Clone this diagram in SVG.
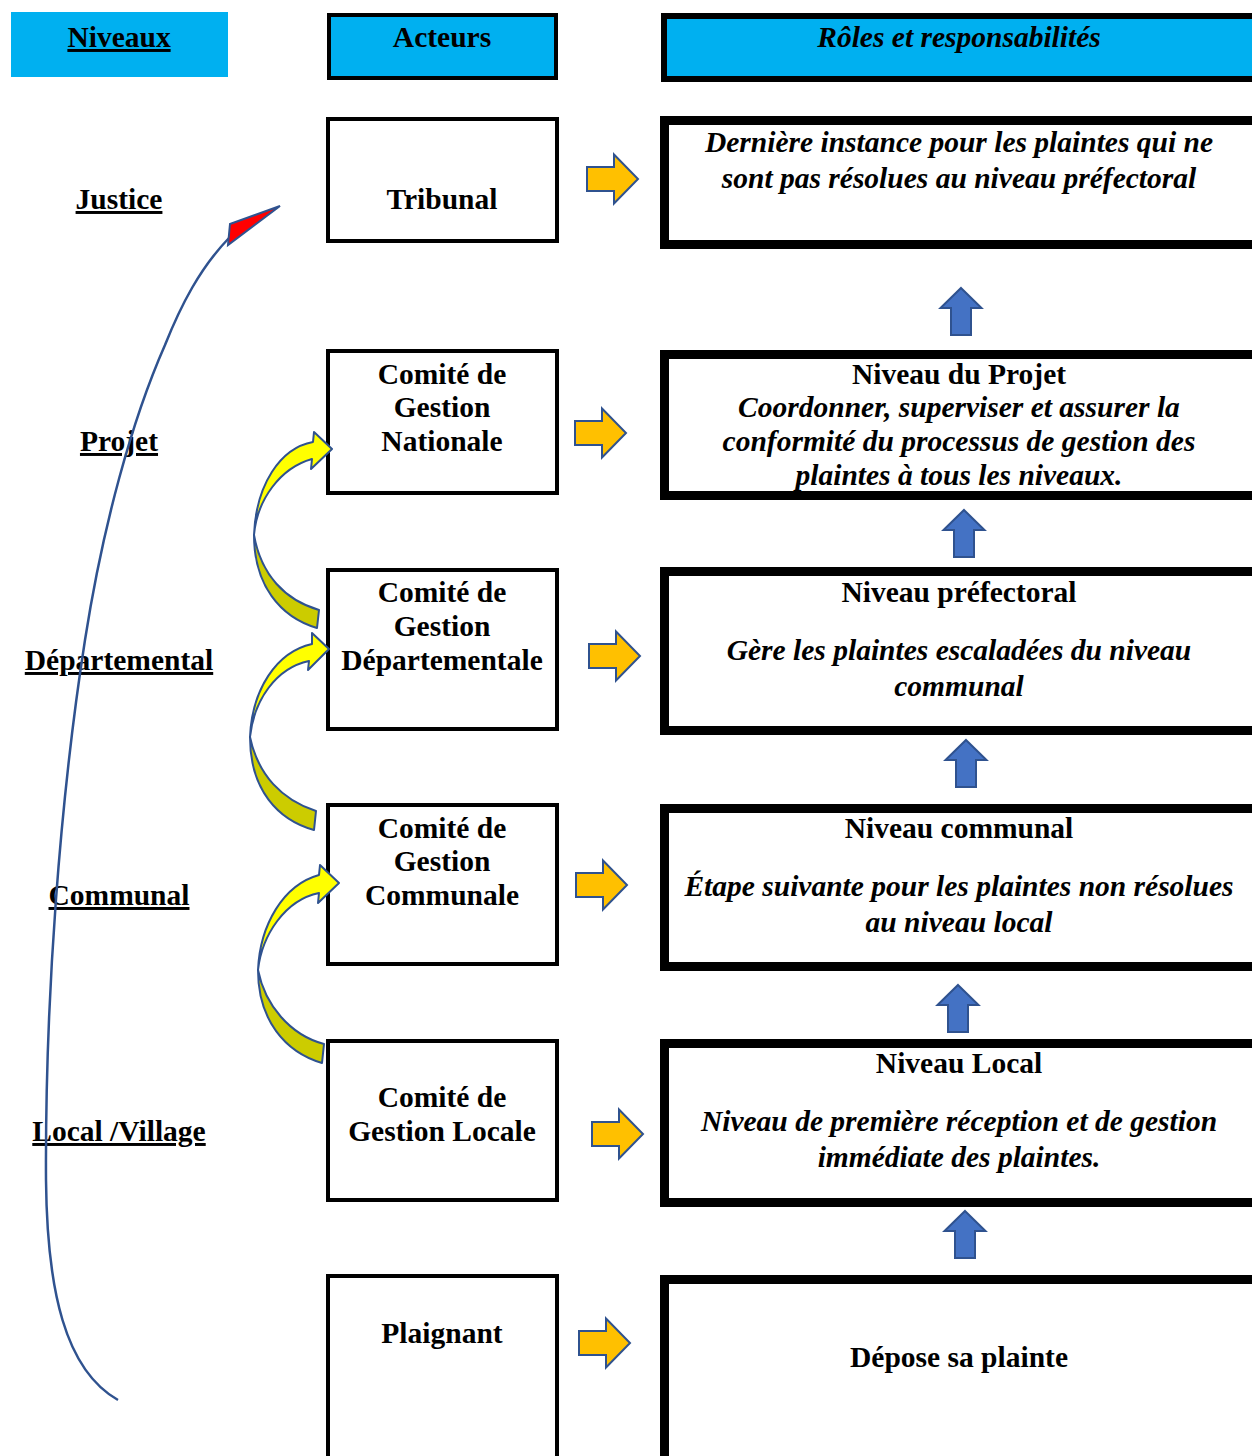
<svg xmlns="http://www.w3.org/2000/svg" xmlns:xlink="http://www.w3.org/1999/xlink" width="1252" height="1456" viewBox="0 0 1252 1456">
<style>
text{font-family:"Liberation Serif","Times New Roman",serif;font-size:29.5px;font-weight:bold;fill:#000;text-anchor:middle}
.it{font-style:italic}
.ul{text-decoration:underline}
.actor{fill:#fff;stroke:#000;stroke-width:4}
.role{fill:#fff;stroke:#000;stroke-width:9}
.hdr{fill:#00B0F0}
.orange{fill:#FFC000;stroke:#2F528F;stroke-width:2;stroke-linejoin:miter}
.blue{fill:#4472C4;stroke:#2F528F;stroke-width:2}
.yl{fill:#FFFF00;stroke:#2F528F;stroke-width:2;stroke-linejoin:round}
.yd{fill:#CCCC00;stroke:#2F528F;stroke-width:2;stroke-linejoin:round}
</style>
<defs>
<path id="oarr" d="M0,-12 H27 V-24.5 L51,0 L27,24.5 V12 H0 Z"/>
<path id="barr" d="M0,0 L20.5,20 H10 V47 H-10 V20 H-20.5 Z"/>
</defs>
<rect width="1252" height="1456" fill="#fff"/>

<g id="headers">
<rect class="hdr" x="11" y="12" width="217" height="65"/>
<text class="ul" x="119" y="47">Niveaux</text>
<rect class="hdr" x="329" y="15" width="227" height="63" stroke="#000" stroke-width="4"/>
<text x="442" y="47">Acteurs</text>
<rect class="hdr" x="664" y="16" width="600" height="63" stroke="#000" stroke-width="6"/>
<text class="it" x="959" y="47">Rôles et responsabilités</text>
</g>

<g id="levels">
<text class="ul" x="119" y="209">Justice</text>
<text class="ul" x="119" y="451">Projet</text>
<text class="ul" x="119" y="670">Départemental</text>
<text class="ul" x="119" y="905">Communal</text>
<text class="ul" x="119" y="1141">Local /Village</text>
</g>

<g id="actor-tribunal">
<rect class="actor" x="328" y="119" width="229" height="122"/>
<text x="442" y="209">Tribunal</text>
</g>
<g id="actor-cgn">
<rect class="actor" x="328" y="351" width="229" height="142"/>
<text x="442" y="384">Comité de</text>
<text x="442" y="417">Gestion</text>
<text x="442" y="451">Nationale</text>
</g>
<g id="actor-cgd">
<rect class="actor" x="328" y="570" width="229" height="159"/>
<text x="442" y="602">Comité de</text>
<text x="442" y="636">Gestion</text>
<text x="442" y="670">Départementale</text>
</g>
<g id="actor-cgc">
<rect class="actor" x="328" y="805" width="229" height="159"/>
<text x="442" y="838">Comité de</text>
<text x="442" y="871">Gestion</text>
<text x="442" y="905">Communale</text>
</g>
<g id="actor-cgl">
<rect class="actor" x="328" y="1041" width="229" height="159"/>
<text x="442" y="1107">Comité de</text>
<text x="442" y="1141">Gestion Locale</text>
</g>
<g id="actor-plaignant">
<rect class="actor" x="328" y="1276" width="229" height="200"/>
<text x="442" y="1343">Plaignant</text>
</g>

<g id="role-justice">
<rect class="role" x="664.5" y="120.5" width="620" height="124"/>
<text class="it" x="959" y="152">Dernière instance pour les plaintes qui ne</text>
<text class="it" x="959" y="188">sont pas résolues au niveau préfectoral</text>
</g>
<g id="role-projet">
<rect class="role" x="664.5" y="354.5" width="620" height="141"/>
<text x="959" y="384">Niveau du Projet</text>
<text class="it" x="959" y="417">Coordonner, superviser et assurer la</text>
<text class="it" x="959" y="451">conformité du processus de gestion des</text>
<text class="it" x="959" y="485">plaintes à tous les niveaux.</text>
</g>
<g id="role-prefectoral">
<rect class="role" x="664.5" y="571.5" width="620" height="159"/>
<text x="959" y="602">Niveau préfectoral</text>
<text class="it" x="959" y="660">Gère les plaintes escaladées du niveau</text>
<text class="it" x="959" y="696">communal</text>
</g>
<g id="role-communal">
<rect class="role" x="664.5" y="808.5" width="620" height="158"/>
<text x="959" y="838">Niveau communal</text>
<text class="it" x="959" y="896">Étape suivante pour les plaintes non résolues</text>
<text class="it" x="959" y="932">au niveau local</text>
</g>
<g id="role-local">
<rect class="role" x="664.5" y="1043.5" width="620" height="159"/>
<text x="959" y="1073">Niveau Local</text>
<text class="it" x="959" y="1131">Niveau de première réception et de gestion</text>
<text class="it" x="959" y="1167">immédiate des plaintes.</text>
</g>
<g id="role-plainte">
<rect class="role" x="664.5" y="1279.5" width="620" height="200"/>
<text x="959" y="1367">Dépose sa plainte</text>
</g>

<g id="connectors">
<use xlink:href="#oarr" class="orange" transform="translate(587,179)"/>
<use xlink:href="#oarr" class="orange" transform="translate(575,433)"/>
<use xlink:href="#oarr" class="orange" transform="translate(589,656)"/>
<use xlink:href="#oarr" class="orange" transform="translate(576,885)"/>
<use xlink:href="#oarr" class="orange" transform="translate(592,1134)"/>
<use xlink:href="#oarr" class="orange" transform="translate(579,1343)"/>

<use xlink:href="#barr" class="blue" transform="translate(961,288)"/>
<use xlink:href="#barr" class="blue" transform="translate(964,510)"/>
<use xlink:href="#barr" class="blue" transform="translate(966,740)"/>
<use xlink:href="#barr" class="blue" transform="translate(958,985)"/>
<use xlink:href="#barr" class="blue" transform="translate(965,1211)"/>

<path class="yd" d="M254,535 C254,585 280,617 317,628 L319,610 C285,600 261,575 254,535 Z"/>
<path class="yl" d="M313,442 C280,448 256,485 254,535 C257,500 280,468 312,459 L311,469 L332,449 L314,432 Z"/>
<path class="yd" d="M250,737 C250,790 278,820 314,830 L316,811 C282,800 258,775 250,737 Z"/>
<path class="yl" d="M312,644 C276,652 252,690 250,737 C254,700 276,668 309,661 L308,670 L329,649 L312,633 Z"/>
<path class="yd" d="M258,970 C258,1020 285,1052 322,1063 L324,1044 C290,1035 265,1005 258,970 Z"/>
<path class="yl" d="M319,875 C283,885 260,925 258,970 C262,935 285,900 319,893 L318,903 L339,883 L320,865 Z"/>

<path d="M118,1400 C65,1370 47,1290 46,1180 C45,1000 60,800 85,640 C103,525 132,420 165,345 C181,305 200,268 229,238" fill="none" stroke="#2F528F" stroke-width="2.5"/>
<polygon points="230,224 280,206 228,245" fill="#FF0000" stroke="#2F528F" stroke-width="2"/>
</g>
</svg>
